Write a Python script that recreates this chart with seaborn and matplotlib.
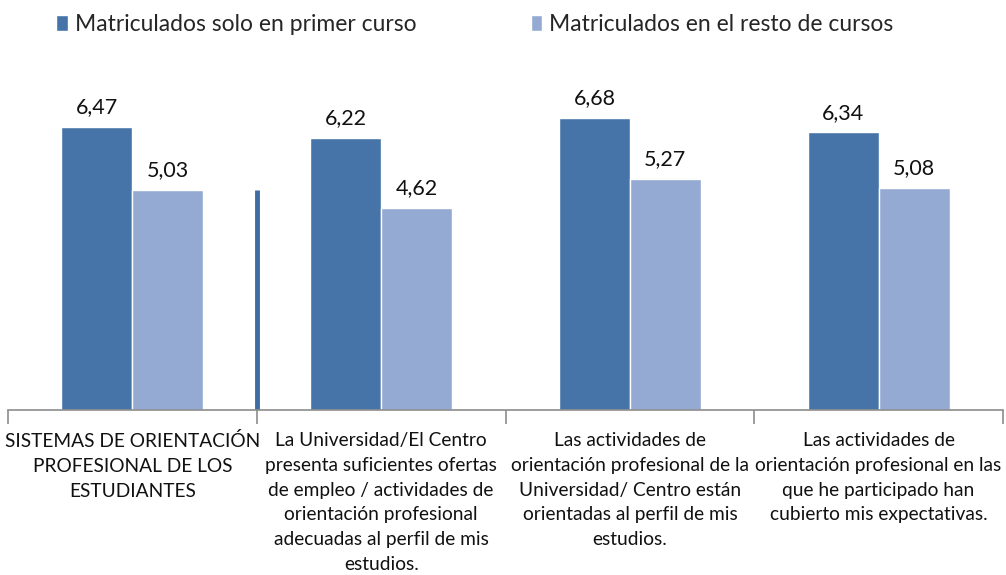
import matplotlib.pyplot as plt
import pandas as pd
import seaborn as sns

# --- Data -----------------------------------------------------------------
categories = [
    "SISTEMAS DE ORIENTACIÓN\nPROFESIONAL DE LOS\nESTUDIANTES",
    "La Universidad/El Centro\npresenta suficientes ofertas\nde empleo / actividades de\norientación profesional\nadecuadas al perfil de mis\nestudios.",
    "Las actividades de\norientación profesional de la\nUniversidad/ Centro están\norientadas al perfil de mis\nestudios.",
    "Las actividades de\norientación profesional en las\nque he participado han\ncubierto mis expectativas.",
]
series = ["Matriculados solo en primer curso", "Matriculados en el resto de cursos"]
primer_curso = [6.47, 6.22, 6.68, 6.34]
resto_cursos = [5.03, 4.62, 5.27, 5.08]
stray_line_height = 5.03  # thin leftover bar seen between first two groups

colors = ["#4674A8", "#95AAD3"]

df = pd.DataFrame({
    "categoria": categories * 2,
    "serie": [series[0]] * 4 + [series[1]] * 4,
    "valor": primer_curso + resto_cursos,
})

# --- Plot -----------------------------------------------------------------
sns.set_style("white")
plt.rcParams["font.family"] = ["Lato", "DejaVu Sans"]

fig = plt.figure(figsize=(10.06, 5.75), dpi=100)
ax = fig.add_axes([0.008, 0.287, 0.989, 0.609])

sns.barplot(data=df, x="categoria", y="valor", hue="serie",
            palette=colors, width=0.571, saturation=1, ax=ax)

for cont in ax.containers:
    ax.bar_label(cont, labels=[f"{v:.2f}".replace(".", ",") for v in cont.datavalues],
                 padding=7, fontsize=15.5, color="#111111")

ax.vlines(0.5, 0, stray_line_height, color="#3F6CA3", linewidth=3.5)

ax.set_xlim(-0.5, 3.5)
ax.set_ylim(0, 8)
ax.set_xlabel("")
ax.set_ylabel("")
ax.set_yticks([])
for side in ["left", "right", "top"]:
    ax.spines[side].set_visible(False)
ax.spines["bottom"].set_color("#8c8c8c")
ax.spines["bottom"].set_linewidth(1.2)

ax.set_xticks(range(4))
ax.set_xticklabels(categories, fontsize=13.8, linespacing=1.55, color="#111111")
ax.tick_params(axis="x", which="major", length=0, pad=16)
ax.set_xticks([-0.5, 0.5, 1.5, 2.5, 3.5], minor=True)
ax.tick_params(axis="x", which="minor", bottom=True, length=10, width=1.2,
               color="#8c8c8c", direction="out")

leg = ax.legend(loc="upper center", ncol=2, frameon=False, fontsize=16.5,
                handlelength=0.5, handleheight=0.7, handletextpad=0.3,
                columnspacing=5.0, borderpad=0)
leg.set_bbox_to_anchor((0.472, 0.995), transform=fig.transFigure)

fig.savefig("out.png", dpi=100)
